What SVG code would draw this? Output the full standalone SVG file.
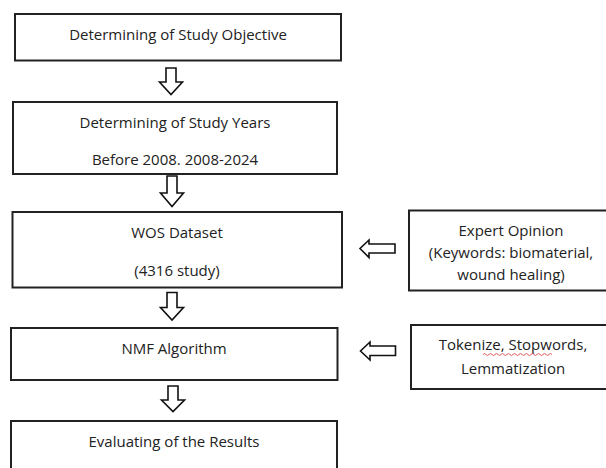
<svg xmlns="http://www.w3.org/2000/svg" width="606" height="468" viewBox="0 0 606 468">
<style>
.box{fill:#fff;stroke:#222;stroke-width:2}
.arr{fill:#fff;stroke:#111;stroke-width:1.6;stroke-linejoin:miter}
text{font-family:"Open Sans","Liberation Sans",Arial,sans-serif;font-size:15px;fill:#222;text-anchor:middle}
</style>
<rect width="606" height="468" fill="#fff"/>
<g id="n1"><rect class="box" x="15" y="14" width="326" height="46.5"/><text x="178" y="39.5">Determining of Study Objective</text></g>
<g id="n2"><rect class="box" x="13" y="102" width="324" height="72"/><text x="175" y="127.5">Determining of Study Years</text><text x="175" y="165">Before 2008. 2008-2024</text></g>
<g id="n3"><rect class="box" x="12.5" y="212" width="329.5" height="75.5"/><text x="177" y="237.5">WOS Dataset</text><text x="177" y="276">(4316 study)</text></g>
<g id="n4"><rect class="box" x="11" y="328" width="326.5" height="52"/><text x="174" y="354">NMF Algorithm</text></g>
<g id="n5"><rect class="box" x="11" y="421" width="326" height="60"/><text x="174" y="447">Evaluating of the Results</text></g>
<g id="n6"><rect class="box" x="409" y="210.5" width="205" height="80"/><text x="511" y="235.5">Expert Opinion</text><text x="511" y="258">(Keywords: biomaterial,</text><text x="511" y="279.5">wound healing)</text></g>
<g id="n7"><rect class="box" x="411" y="325" width="203" height="64"/><text x="513" y="350">Tokenize, Stopwords,</text><text x="513" y="373.5">Lemmatization</text><path d="M510 354.5 q1.5 -2 3 0 t3 0 t3 0 t3 0 t3 0 t3 0 t3 0 t3 0 t3 0 t3 0 t3 0 t3 0 t3 0 t3 0 t3 0 t3 0 t3 0 t3 0 t3 0 t3 0 t3 0 t3 0 t3 0" fill="none" stroke="#d33" stroke-width="0.8" transform="translate(-27 0)"/></g>
<g id="connectors">
<path class="arr" d="M166 68 H176 V82 H182.5 L171 94.5 L159.5 82 H166 Z"/>
<path class="arr" d="M167 176 H177 V193 H183.5 L172 206.5 L160.5 193 H167 Z"/>
<path class="arr" d="M167 292.5 H177 V307.5 H183.5 L172 320 L160.5 307.5 H167 Z"/>
<path class="arr" d="M168 386 H178 V400 H184.5 L173 411.5 L161.5 400 H168 Z"/>
<path class="arr" d="M395 244 V253 H369 V257.5 L360 248.5 L369 240 V244 Z"/>
<path class="arr" d="M395.5 346 V355.5 H370 V360 L360.5 351 L370 342 V346 Z"/>
</g>
</svg>
